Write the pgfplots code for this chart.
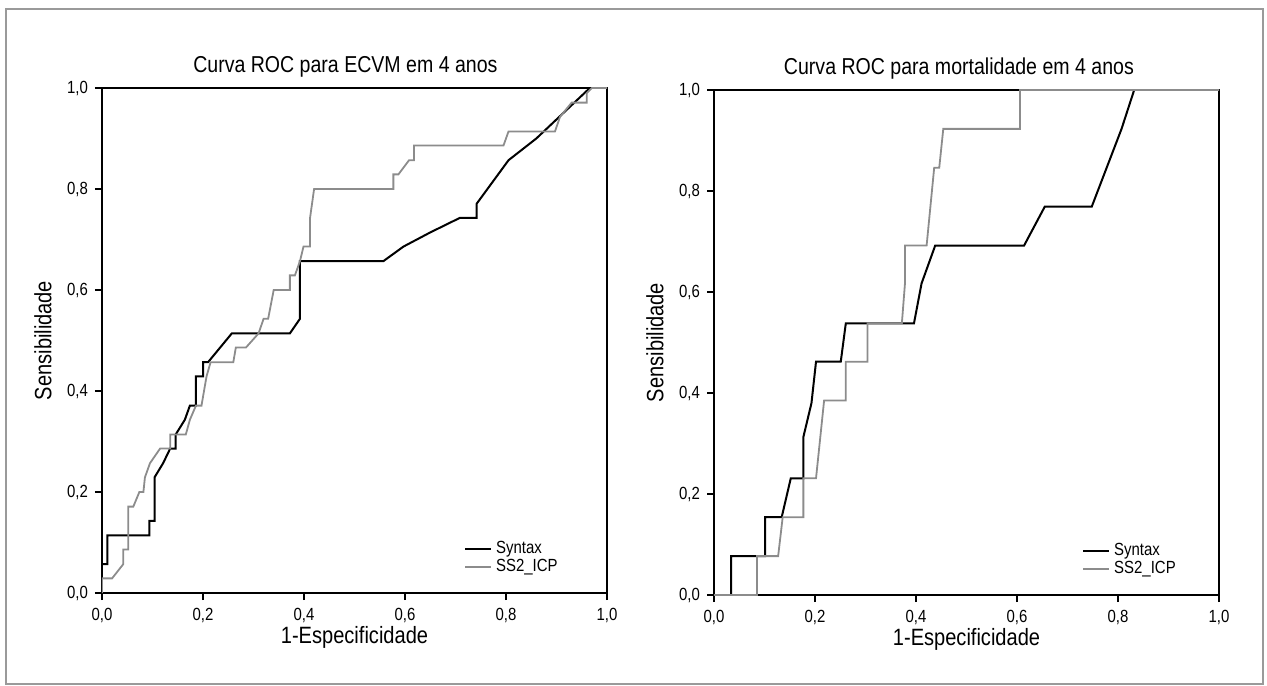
\documentclass[border=0pt]{standalone}
\usepackage{fontspec}
\setmainfont{Liberation Sans}[FakeStretch=0.85]
\usepackage{pgfplots}
\pgfplotsset{compat=1.18}
\definecolor{frame}{HTML}{9A9A9A}
\definecolor{ssgray}{HTML}{8C8C8C}

\pgfplotsset{
  rocax/.style={
    scale only axis, width=252.5pt, height=252.5pt,
    xmin=0, xmax=1, ymin=0, ymax=1,
    xtick={0,0.2,...,1}, ytick={0,0.2,...,1},
    xtick pos=left, ytick pos=left, tick align=outside,
    major tick length=3.5pt, tick style={black, line width=0.8pt},
    axis line style={black, line width=0.8pt},
    /pgf/number format/.cd, fixed, fixed zerofill, precision=1, use comma, assume math mode=true,
    /pgfplots/.cd,
    tick label style={font=\fontsize{8.8}{10}\selectfont},
    xticklabel style={yshift=-0.5pt},
    title style={font=\fontsize{11.5}{13}\selectfont, anchor=south, yshift=-4pt},
    label style={font=\fontsize{11.8}{13}\selectfont},
    xlabel style={at={(axis description cs:0.5,-0.087)}, anchor=center},
    ylabel style={at={(axis description cs:-0.117,0.5)}, anchor=center},
    xlabel={1-Especificidade}, ylabel={Sensibilidade},
    legend style={draw=none, fill=none, font=\fontsize{8.8}{9.5}\selectfont,
      row sep=-2.8pt, inner sep=1pt},
    legend cell align=left,
    legend image code/.code={\draw[##1] (0pt,0pt) -- (13pt,0pt);},
  },
  syn/.style={black, line width=1pt},
  ss2/.style={ssgray, line width=0.9pt},
}

\begin{document}
\begin{tikzpicture}
\useasboundingbox (0,0) rectangle (633.5pt,342.5pt);
\draw[frame, line width=0.6pt] (3pt,0.5pt) rectangle (631.5pt,338pt);

\begin{axis}[rocax, at={(51pt,46pt)}, anchor=south west,
  title={Curva ROC para ECVM em 4 anos}, title style={at={(0.482,1)}},
  legend style={at={(0.915,0.115)}, anchor=north east}]
\addplot[syn] coordinates {(0,0) (0,0.057) (0.0105,0.057) (0.0105,0.114) (0.094,0.114) (0.094,0.143) (0.104,0.143) (0.104,0.229) (0.121,0.257) (0.135,0.286) (0.146,0.286) (0.146,0.314) (0.164,0.343) (0.174,0.371) (0.186,0.371) (0.186,0.429) (0.2,0.429) (0.2,0.457) (0.21,0.457) (0.257,0.514) (0.372,0.514) (0.392,0.543) (0.392,0.657) (0.557,0.657) (0.597,0.686) (0.65,0.714) (0.709,0.743) (0.742,0.743) (0.742,0.771) (0.805,0.857) (0.86,0.9) (0.966,1) (1,1)};
\addplot[ss2] coordinates {(0,0) (0,0.029) (0.02,0.029) (0.042,0.057) (0.042,0.086) (0.052,0.086) (0.052,0.171) (0.062,0.171) (0.074,0.2) (0.082,0.2) (0.085,0.229) (0.095,0.257) (0.115,0.286) (0.135,0.286) (0.135,0.314) (0.166,0.314) (0.174,0.343) (0.186,0.371) (0.197,0.371) (0.207,0.429) (0.215,0.457) (0.26,0.457) (0.265,0.486) (0.285,0.486) (0.31,0.514) (0.32,0.543) (0.329,0.543) (0.34,0.6) (0.372,0.6) (0.372,0.629) (0.382,0.629) (0.392,0.657) (0.399,0.686) (0.412,0.686) (0.412,0.743) (0.42,0.8) (0.577,0.8) (0.577,0.829) (0.587,0.829) (0.608,0.857) (0.618,0.857) (0.618,0.886) (0.795,0.886) (0.805,0.914) (0.897,0.914) (0.907,0.943) (0.93,0.971) (0.96,0.971) (0.96,0.99) (0.97,1) (1,1)};
\legend{Syntax, SS2\_ICP}
\end{axis}

\begin{axis}[rocax, at={(357pt,45pt)}, anchor=south west,
  title={Curva ROC para mortalidade em 4 anos}, title style={at={(0.485,1)}},
  legend style={at={(0.927,0.115)}, anchor=north east}]
\addplot[syn] coordinates {(0,0) (0.034,0) (0.034,0.077) (0.101,0.077) (0.101,0.154) (0.134,0.154) (0.152,0.231) (0.177,0.231) (0.177,0.313) (0.193,0.38) (0.202,0.462) (0.251,0.462) (0.261,0.538) (0.396,0.538) (0.411,0.617) (0.438,0.692) (0.614,0.692) (0.655,0.769) (0.748,0.769) (0.807,0.923) (0.832,1) (1,1)};
\addplot[ss2] coordinates {(0,0) (0.085,0) (0.085,0.077) (0.127,0.077) (0.136,0.154) (0.177,0.154) (0.177,0.231) (0.202,0.231) (0.218,0.385) (0.261,0.385) (0.261,0.462) (0.304,0.462) (0.304,0.538) (0.372,0.538) (0.378,0.615) (0.378,0.692) (0.421,0.692) (0.436,0.846) (0.446,0.846) (0.454,0.923) (0.606,0.923) (0.606,1) (1,1)};
\legend{Syntax, SS2\_ICP}
\end{axis}
\end{tikzpicture}
\end{document}
